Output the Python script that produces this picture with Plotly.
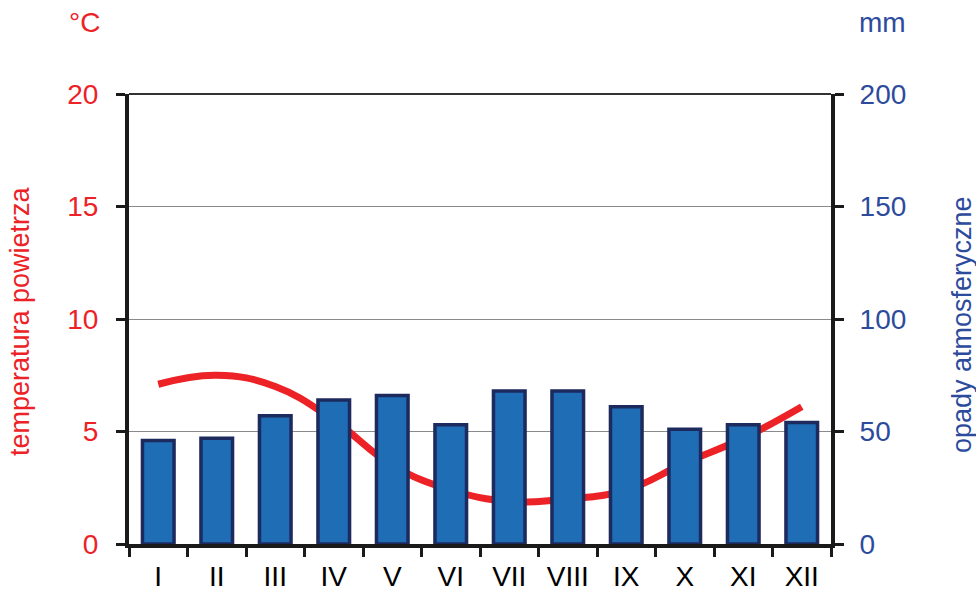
import plotly.graph_objects as go

months = ["I", "II", "III", "IV", "V", "VI", "VII", "VIII", "IX", "X", "XI", "XII"]
precip_mm = [46, 47, 57, 64, 66, 53, 68, 68, 61, 51, 53, 54]
temp_c = [7.1, 7.5, 7.0, 5.5, 3.5, 2.4, 1.9, 2.0, 2.4, 3.6, 4.7, 6.1]
temp_ticks = [0, 5, 10, 15, 20]
precip_ticks = [0, 50, 100, 150, 200]

RED = "#ec2227"
BLUE_TXT = "#2d4b9d"
BAR_FILL = "#1e6db5"
BAR_LINE = "#1c2a5e"
FONT = "Liberation Sans, Arial, sans-serif"

W, H = 976, 591
L, R, T, B = 129, 145, 94, 47
pw, ph = W - L - R, H - T - B


def px2paper(px, py):
    return (px - L) / pw, (H - B - py) / ph


fig = go.Figure()
fig.add_trace(go.Bar(
    x=months, y=precip_mm, yaxis="y2", width=0.54,
    marker=dict(color=BAR_FILL, line=dict(color=BAR_LINE, width=3.5)),
    showlegend=False,
))
fig.add_trace(go.Scatter(
    x=months, y=temp_c, yaxis="y", mode="lines",
    line=dict(color=RED, width=7, shape="spline", smoothing=1.2),
    showlegend=False,
))

annots = []
for text, x, y, ang, col, size in [
    ("°C", 84, 23, 0, RED, 28),
    ("mm", 882, 23, 0, BLUE_TXT, 28),
    ("temperatura powietrza", 20, 321, -90, RED, 27),
    ("opady atmosferyczne", 962, 325, -90, BLUE_TXT, 27),
]:
    ax, ay = px2paper(x, y)
    annots.append(dict(text=text, x=ax, y=ay, xref="paper", yref="paper",
                       xanchor="center", yanchor="middle", textangle=ang,
                       showarrow=False, font=dict(size=size, color=col)))

fig.update_layout(
    template="none",
    width=W, height=H,
    margin=dict(l=L, r=R, t=T, b=B, autoexpand=False),
    paper_bgcolor="white", plot_bgcolor="white",
    font=dict(family=FONT, size=28, color="black"),
    xaxis=dict(
        type="category", range=[-0.5, 11.5], automargin=False,
        showline=True, linecolor="#1a1a1a", linewidth=4,
        ticks="outside", tickson="boundaries", ticklen=9, tickwidth=3, tickcolor="#1a1a1a",
        showgrid=False, zeroline=False, tickfont=dict(size=28, color="black"),
        ticklabelstandoff=4,
    ),
    yaxis=dict(
        range=[0, 20], tickvals=temp_ticks, automargin=False,
        showline=True, linecolor="#1a1a1a", linewidth=4,
        ticks="outside", ticklen=9, tickwidth=3, tickcolor="#1a1a1a",
        showgrid=True, gridcolor="#8a8a8a", gridwidth=1,
        zeroline=False, tickfont=dict(size=28, color=RED),
        ticklabelstandoff=12,
    ),
    yaxis2=dict(
        range=[0, 200], tickvals=precip_ticks, overlaying="y", side="right",
        automargin=False,
        showline=True, linecolor="#1a1a1a", linewidth=4,
        ticks="outside", ticklen=9, tickwidth=3, tickcolor="#1a1a1a",
        showgrid=False, zeroline=False, tickfont=dict(size=28, color=BLUE_TXT),
        ticklabelstandoff=10,
    ),
    shapes=[dict(type="line", xref="paper", yref="paper", x0=0, x1=1, y0=1, y1=1,
                 line=dict(color="#333333", width=2))],
    annotations=annots,
)

fig.write_html("out.html", config={"displayModeBar": False},
               post_script="document.body.style.margin='0';document.body.style.overflow='hidden';")
